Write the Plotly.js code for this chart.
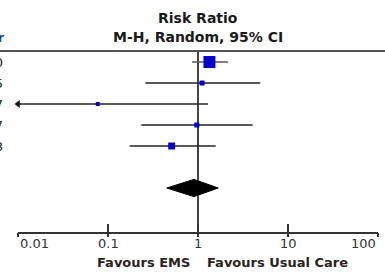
<!DOCTYPE html>
<html>
<head>
<meta charset="utf-8">
<script src="https://cdn.plot.ly/plotly-3.0.1.min.js"></script>
<style>
html,body{margin:0;padding:0;background:#fff;}
#chart{width:385px;height:272px;}
</style>
</head>
<body>
<div id="chart"></div>
<script>
// ---- data ----
var studyYears = ['2010', '2015', '2017', '2017', '2018'];
var riskRatio  = [1.34, 1.11, 0.077, 0.97, 0.51];
var ciLower    = [0.86, 0.26, 0.003, 0.234, 0.174];
var ciUpper    = [2.15, 4.92, 1.29, 4.05, 1.57];
var weights    = [55.6, 9.7, 6.2, 9.7, 18.9];
var pooledRR    = 0.90;
var pooledLower = 0.45;
var pooledUpper = 1.68;
var tickValues = [0.01, 0.1, 1, 10, 100];
var tickLabels = ['0.01', '0.1', '1', '10', '100'];
var axisMin = 0.01, axisMax = 100;

// ---- layout helpers ----
var yTop = 0.476, yBottom = 9.095;
var diamondRow = 7;
var font = 'DejaVu Sans, Verdana, sans-serif';
var traces = [];

// reference line at RR = 1
traces.push({x:[1,1], y:[yTop,yBottom], mode:'lines', line:{color:'#444', width:2},
  hoverinfo:'skip', showlegend:false, cliponaxis:false});

for (var i = 0; i < riskRatio.length; i++) {
  var row = i + 1;
  var lo = Math.max(ciLower[i], axisMin);
  var hi = Math.min(ciUpper[i], axisMax);
  traces.push({x:[lo, hi], y:[row, row], mode:'lines',
    line:{color: i === 0 ? '#555' : '#222', width:1.5}, hoverinfo:'skip', showlegend:false});
  if (ciLower[i] < axisMin) {
    traces.push({x:[axisMin], y:[row], mode:'markers', cliponaxis:false,
      marker:{symbol:'triangle-left', size:7, color:'#111'}, hoverinfo:'skip', showlegend:false});
  }
  traces.push({x:[riskRatio[i]], y:[row], mode:'markers',
    marker:{symbol:'square', size:1.6*Math.sqrt(weights[i]), color:'#0000c8', line:{width:0}},
    hoverinfo:'skip', showlegend:false});
}

// pooled diamond
var h = 0.41;
traces.push({x:[pooledLower, pooledRR, pooledUpper, pooledRR, pooledLower],
  y:[diamondRow, diamondRow - h, diamondRow, diamondRow + h, diamondRow],
  mode:'lines', fill:'toself', fillcolor:'#000', line:{color:'#000', width:1},
  hoverinfo:'skip', showlegend:false});

// dummy trace for second tick axis
traces.push({x:[1], y:[0], xaxis:'x2', mode:'markers', marker:{opacity:0}, hoverinfo:'skip', showlegend:false});

var annotations = [];
// tick labels
for (var k = 0; k < tickValues.length; k++) {
  annotations.push({xref:'x', yref:'paper', x:Math.log10(tickValues[k]), y:-0.066,
    text:tickLabels[k], showarrow:false, yanchor:'middle',
    xanchor: k === 0 ? 'left' : (k === tickValues.length - 1 ? 'right' : 'center'),
    font:{family:font, size:13, color:'#333'}});
}
// clipped study year labels at left edge
for (var j = 0; j < studyYears.length; j++) {
  annotations.push({xref:'paper', yref:'y', x:(5-18)/360, y:j+1, text:studyYears[j],
    showarrow:false, xanchor:'right', yanchor:'middle',
    font:{family:font, size:13, color:'#222'}});
}
annotations.push({xref:'paper', yref:'paper', x:(7-18)/360, y:1.077, text:'<b>Year</b>',
  showarrow:false, xanchor:'right', yanchor:'middle', font:{family:font, size:13, color:'#1c4593'}});
// header
annotations.push({xref:'x', yref:'paper', x:0, y:1.182, text:'<b>Risk Ratio</b>', showarrow:false,
  xanchor:'center', yanchor:'middle', font:{family:font, size:14, color:'#1a1a1a'}});
annotations.push({xref:'x', yref:'paper', x:0, y:1.077, text:'<b>M-H, Random, 95% CI</b>', showarrow:false,
  xanchor:'center', yanchor:'middle', font:{family:font, size:14, color:'#1a1a1a'}});
// favours
annotations.push({xref:'x', yref:'paper', x:0, xshift:-6, y:-0.166, text:'<b>Favours EMS</b>', showarrow:false,
  xanchor:'right', yanchor:'middle', font:{family:font, size:13, color:'#2b2420'}});
annotations.push({xref:'x', yref:'paper', x:0, xshift:7, y:-0.166, text:'<b>Favours Usual Care</b>', showarrow:false,
  xanchor:'left', yanchor:'middle', font:{family:font, size:13, color:'#2b2420'}});

var layout = {
  width:385, height:272,
  margin:{l:18, r:7, t:51, b:40, pad:0},
  paper_bgcolor:'#fff', plot_bgcolor:'#fff',
  showlegend:false,
  xaxis:{type:'log', range:[Math.log10(axisMin), Math.log10(axisMax)], tickvals:tickValues,
    showticklabels:false, ticks:'inside', ticklen:8, tickwidth:1.5, tickcolor:'#333',
    showline:true, linecolor:'#333', linewidth:1.5, showgrid:false, zeroline:false, fixedrange:true},
  xaxis2:{type:'log', range:[Math.log10(axisMin), Math.log10(axisMax)], tickvals:tickValues,
    overlaying:'x', anchor:'y', side:'bottom',
    showticklabels:false, ticks:'outside', ticklen:4, tickwidth:1.5, tickcolor:'#333',
    showline:false, showgrid:false, zeroline:false, fixedrange:true},
  yaxis:{range:[yBottom, yTop], visible:false, showgrid:false, zeroline:false, fixedrange:true},
  shapes:[{type:'line', xref:'paper', yref:'paper', x0:-0.06, x1:1.03, y0:1, y1:1,
    line:{color:'#555', width:2}}],
  annotations:annotations
};

Plotly.newPlot('chart', traces, layout, {displayModeBar:false, staticPlot:true});
</script>
</body>
</html>
